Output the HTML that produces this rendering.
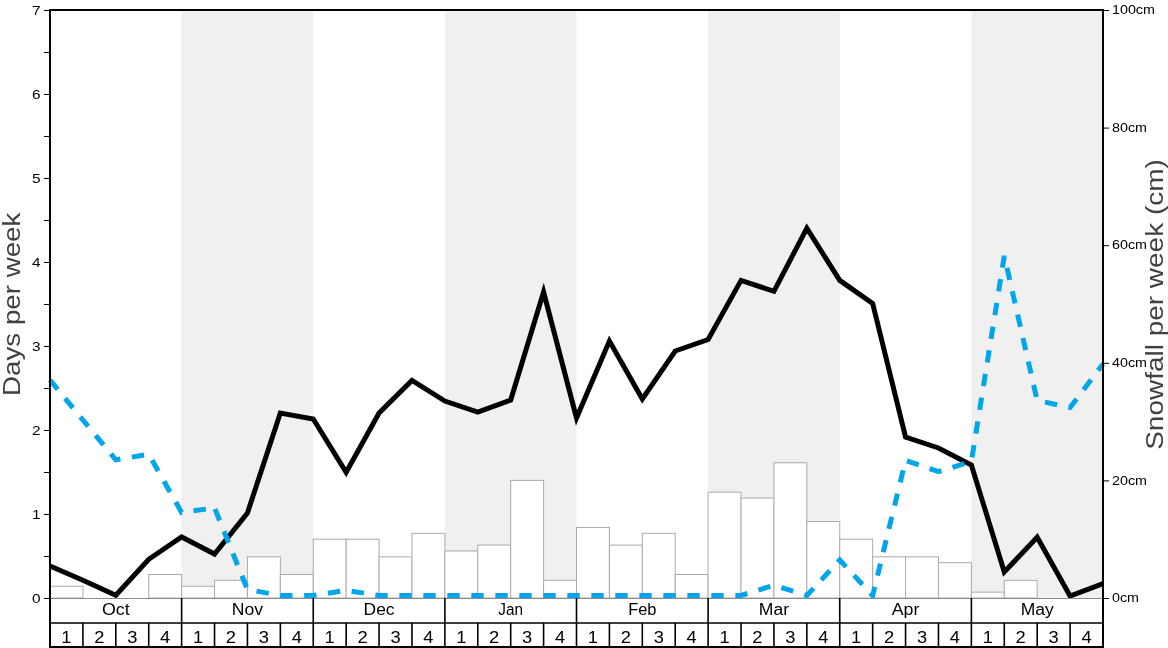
<!DOCTYPE html>
<html><head><meta charset="utf-8"><style>
html,body{margin:0;padding:0;background:#fff;width:1168px;height:648px;overflow:hidden}
svg{display:block;will-change:transform}
text{font-family:"Liberation Sans", sans-serif}
</style></head><body>
<svg width="1168" height="648" viewBox="0 0 1168 648">
<rect x="0" y="0" width="1168" height="648" fill="#fff"/>
<rect x="181.62" y="10" width="131.62" height="588" fill="#f0f0f0"/>
<rect x="444.88" y="10" width="131.62" height="588" fill="#f0f0f0"/>
<rect x="708.12" y="10" width="131.62" height="588" fill="#f0f0f0"/>
<rect x="971.38" y="10" width="131.62" height="588" fill="#f0f0f0"/>
<rect x="50.00" y="586.24" width="32.91" height="11.76" fill="#fff" stroke="#aaaaaa" stroke-width="1"/>
<rect x="148.72" y="574.48" width="32.91" height="23.52" fill="#fff" stroke="#aaaaaa" stroke-width="1"/>
<rect x="181.62" y="586.24" width="32.91" height="11.76" fill="#fff" stroke="#aaaaaa" stroke-width="1"/>
<rect x="214.53" y="580.36" width="32.91" height="17.64" fill="#fff" stroke="#aaaaaa" stroke-width="1"/>
<rect x="247.44" y="556.84" width="32.91" height="41.16" fill="#fff" stroke="#aaaaaa" stroke-width="1"/>
<rect x="280.34" y="574.48" width="32.91" height="23.52" fill="#fff" stroke="#aaaaaa" stroke-width="1"/>
<rect x="313.25" y="539.20" width="32.91" height="58.80" fill="#fff" stroke="#aaaaaa" stroke-width="1"/>
<rect x="346.16" y="539.20" width="32.91" height="58.80" fill="#fff" stroke="#aaaaaa" stroke-width="1"/>
<rect x="379.06" y="556.84" width="32.91" height="41.16" fill="#fff" stroke="#aaaaaa" stroke-width="1"/>
<rect x="411.97" y="533.32" width="32.91" height="64.68" fill="#fff" stroke="#aaaaaa" stroke-width="1"/>
<rect x="444.88" y="550.96" width="32.91" height="47.04" fill="#fff" stroke="#aaaaaa" stroke-width="1"/>
<rect x="477.78" y="545.08" width="32.91" height="52.92" fill="#fff" stroke="#aaaaaa" stroke-width="1"/>
<rect x="510.69" y="480.40" width="32.91" height="117.60" fill="#fff" stroke="#aaaaaa" stroke-width="1"/>
<rect x="543.59" y="580.36" width="32.91" height="17.64" fill="#fff" stroke="#aaaaaa" stroke-width="1"/>
<rect x="576.50" y="527.44" width="32.91" height="70.56" fill="#fff" stroke="#aaaaaa" stroke-width="1"/>
<rect x="609.41" y="545.08" width="32.91" height="52.92" fill="#fff" stroke="#aaaaaa" stroke-width="1"/>
<rect x="642.31" y="533.32" width="32.91" height="64.68" fill="#fff" stroke="#aaaaaa" stroke-width="1"/>
<rect x="675.22" y="574.48" width="32.91" height="23.52" fill="#fff" stroke="#aaaaaa" stroke-width="1"/>
<rect x="708.12" y="492.16" width="32.91" height="105.84" fill="#fff" stroke="#aaaaaa" stroke-width="1"/>
<rect x="741.03" y="498.04" width="32.91" height="99.96" fill="#fff" stroke="#aaaaaa" stroke-width="1"/>
<rect x="773.94" y="462.76" width="32.91" height="135.24" fill="#fff" stroke="#aaaaaa" stroke-width="1"/>
<rect x="806.84" y="521.56" width="32.91" height="76.44" fill="#fff" stroke="#aaaaaa" stroke-width="1"/>
<rect x="839.75" y="539.20" width="32.91" height="58.80" fill="#fff" stroke="#aaaaaa" stroke-width="1"/>
<rect x="872.66" y="556.84" width="32.91" height="41.16" fill="#fff" stroke="#aaaaaa" stroke-width="1"/>
<rect x="905.56" y="556.84" width="32.91" height="41.16" fill="#fff" stroke="#aaaaaa" stroke-width="1"/>
<rect x="938.47" y="562.72" width="32.91" height="35.28" fill="#fff" stroke="#aaaaaa" stroke-width="1"/>
<rect x="971.38" y="592.12" width="32.91" height="5.88" fill="#fff" stroke="#aaaaaa" stroke-width="1"/>
<rect x="1004.28" y="580.36" width="32.91" height="17.64" fill="#fff" stroke="#aaaaaa" stroke-width="1"/>
<defs><clipPath id="cp"><rect x="0" y="0" width="1168" height="598"/></clipPath></defs>
<g clip-path="url(#cp)">
<polyline points="50.00,566.00 82.91,580.30 115.81,595.30 148.72,559.30 181.62,537.00 214.53,554.00 247.44,513.00 280.34,413.00 313.25,419.00 346.16,472.30 379.06,413.00 411.97,380.50 444.88,401.00 477.78,412.00 510.69,400.00 543.59,292.00 576.50,418.00 609.41,341.00 642.31,399.00 675.22,351.00 708.12,339.50 741.03,280.40 773.94,291.30 806.84,228.20 839.75,280.40 872.66,303.50 905.56,437.00 938.47,448.00 971.38,465.00 1004.28,572.00 1037.19,537.20 1070.09,596.00 1103.00,583.70" fill="none" stroke="#000" stroke-width="5" stroke-linejoin="miter" stroke-miterlimit="10"/>
<polyline points="50.00,380.00 82.91,420.00 115.81,459.80 148.72,454.30 181.62,512.50 214.53,507.90" fill="none" stroke="#00a5ec" stroke-width="5" stroke-dasharray="12.4 11.6" stroke-dashoffset="0.3" stroke-linejoin="miter"/>
<polyline points="214.53,507.90 247.44,589.50 280.34,595.50 313.25,595.50 346.16,590.30 379.06,595.50 411.97,595.50 444.88,595.50 477.78,595.50 510.69,595.50 543.59,595.50 576.50,595.50 609.41,595.50 642.31,595.50 675.22,595.50 708.12,595.50 741.03,595.50 773.94,585.20 806.84,595.50 839.75,560.00 872.66,595.50 905.56,460.40 938.47,471.60 971.38,461.50 1004.28,256.00 1037.19,400.50 1070.09,407.50 1103.00,364.00" fill="none" stroke="#00a5ec" stroke-width="5" stroke-dasharray="12.4 11.6" stroke-dashoffset="22.79" stroke-linejoin="miter"/>
</g>
<line x1="50.0" y1="598.5" x2="1103.0" y2="598.5" stroke="#8c8c8c" stroke-width="1"/>
<rect x="50.0" y="10" width="1053.0" height="637" fill="none" stroke="#000" stroke-width="2"/>
<line x1="50.0" y1="623" x2="1103.0" y2="623" stroke="#000" stroke-width="1.6"/>
<line x1="181.62" y1="598" x2="181.62" y2="648" stroke="#000" stroke-width="1.6"/>
<line x1="313.25" y1="598" x2="313.25" y2="648" stroke="#000" stroke-width="1.6"/>
<line x1="444.88" y1="598" x2="444.88" y2="648" stroke="#000" stroke-width="1.6"/>
<line x1="576.50" y1="598" x2="576.50" y2="648" stroke="#000" stroke-width="1.6"/>
<line x1="708.12" y1="598" x2="708.12" y2="648" stroke="#000" stroke-width="1.6"/>
<line x1="839.75" y1="598" x2="839.75" y2="648" stroke="#000" stroke-width="1.6"/>
<line x1="971.38" y1="598" x2="971.38" y2="648" stroke="#000" stroke-width="1.6"/>
<line x1="82.91" y1="623" x2="82.91" y2="648" stroke="#000" stroke-width="1.6"/>
<line x1="115.81" y1="623" x2="115.81" y2="648" stroke="#000" stroke-width="1.6"/>
<line x1="148.72" y1="623" x2="148.72" y2="648" stroke="#000" stroke-width="1.6"/>
<line x1="214.53" y1="623" x2="214.53" y2="648" stroke="#000" stroke-width="1.6"/>
<line x1="247.44" y1="623" x2="247.44" y2="648" stroke="#000" stroke-width="1.6"/>
<line x1="280.34" y1="623" x2="280.34" y2="648" stroke="#000" stroke-width="1.6"/>
<line x1="346.16" y1="623" x2="346.16" y2="648" stroke="#000" stroke-width="1.6"/>
<line x1="379.06" y1="623" x2="379.06" y2="648" stroke="#000" stroke-width="1.6"/>
<line x1="411.97" y1="623" x2="411.97" y2="648" stroke="#000" stroke-width="1.6"/>
<line x1="477.78" y1="623" x2="477.78" y2="648" stroke="#000" stroke-width="1.6"/>
<line x1="510.69" y1="623" x2="510.69" y2="648" stroke="#000" stroke-width="1.6"/>
<line x1="543.59" y1="623" x2="543.59" y2="648" stroke="#000" stroke-width="1.6"/>
<line x1="609.41" y1="623" x2="609.41" y2="648" stroke="#000" stroke-width="1.6"/>
<line x1="642.31" y1="623" x2="642.31" y2="648" stroke="#000" stroke-width="1.6"/>
<line x1="675.22" y1="623" x2="675.22" y2="648" stroke="#000" stroke-width="1.6"/>
<line x1="741.03" y1="623" x2="741.03" y2="648" stroke="#000" stroke-width="1.6"/>
<line x1="773.94" y1="623" x2="773.94" y2="648" stroke="#000" stroke-width="1.6"/>
<line x1="806.84" y1="623" x2="806.84" y2="648" stroke="#000" stroke-width="1.6"/>
<line x1="872.66" y1="623" x2="872.66" y2="648" stroke="#000" stroke-width="1.6"/>
<line x1="905.56" y1="623" x2="905.56" y2="648" stroke="#000" stroke-width="1.6"/>
<line x1="938.47" y1="623" x2="938.47" y2="648" stroke="#000" stroke-width="1.6"/>
<line x1="1004.28" y1="623" x2="1004.28" y2="648" stroke="#000" stroke-width="1.6"/>
<line x1="1037.19" y1="623" x2="1037.19" y2="648" stroke="#000" stroke-width="1.6"/>
<line x1="1070.09" y1="623" x2="1070.09" y2="648" stroke="#000" stroke-width="1.6"/>
<line x1="44" y1="598.50" x2="49" y2="598.50" stroke="#000" stroke-width="1"/>
<line x1="44" y1="556.50" x2="49" y2="556.50" stroke="#000" stroke-width="1"/>
<line x1="44" y1="514.50" x2="49" y2="514.50" stroke="#000" stroke-width="1"/>
<line x1="44" y1="472.50" x2="49" y2="472.50" stroke="#000" stroke-width="1"/>
<line x1="44" y1="430.50" x2="49" y2="430.50" stroke="#000" stroke-width="1"/>
<line x1="44" y1="388.50" x2="49" y2="388.50" stroke="#000" stroke-width="1"/>
<line x1="44" y1="346.50" x2="49" y2="346.50" stroke="#000" stroke-width="1"/>
<line x1="44" y1="304.50" x2="49" y2="304.50" stroke="#000" stroke-width="1"/>
<line x1="44" y1="262.50" x2="49" y2="262.50" stroke="#000" stroke-width="1"/>
<line x1="44" y1="220.50" x2="49" y2="220.50" stroke="#000" stroke-width="1"/>
<line x1="44" y1="178.50" x2="49" y2="178.50" stroke="#000" stroke-width="1"/>
<line x1="44" y1="136.50" x2="49" y2="136.50" stroke="#000" stroke-width="1"/>
<line x1="44" y1="94.50" x2="49" y2="94.50" stroke="#000" stroke-width="1"/>
<line x1="44" y1="52.50" x2="49" y2="52.50" stroke="#000" stroke-width="1"/>
<line x1="44" y1="10.50" x2="49" y2="10.50" stroke="#000" stroke-width="1"/>
<text x="40.5" y="603.00" text-anchor="end" font-size="13.5" fill="#000" textLength="8.59" lengthAdjust="spacingAndGlyphs">0</text>
<text x="40.5" y="519.00" text-anchor="end" font-size="13.5" fill="#000" textLength="8.59" lengthAdjust="spacingAndGlyphs">1</text>
<text x="40.5" y="435.00" text-anchor="end" font-size="13.5" fill="#000" textLength="8.59" lengthAdjust="spacingAndGlyphs">2</text>
<text x="40.5" y="351.00" text-anchor="end" font-size="13.5" fill="#000" textLength="8.59" lengthAdjust="spacingAndGlyphs">3</text>
<text x="40.5" y="267.00" text-anchor="end" font-size="13.5" fill="#000" textLength="8.59" lengthAdjust="spacingAndGlyphs">4</text>
<text x="40.5" y="183.00" text-anchor="end" font-size="13.5" fill="#000" textLength="8.59" lengthAdjust="spacingAndGlyphs">5</text>
<text x="40.5" y="99.00" text-anchor="end" font-size="13.5" fill="#000" textLength="8.59" lengthAdjust="spacingAndGlyphs">6</text>
<text x="40.5" y="15.00" text-anchor="end" font-size="13.5" fill="#000" textLength="8.59" lengthAdjust="spacingAndGlyphs">7</text>
<line x1="1104" y1="598.50" x2="1109" y2="598.50" stroke="#000" stroke-width="1"/>
<text x="1112" y="602.10" font-size="12.5" fill="#000" textLength="27.00" lengthAdjust="spacingAndGlyphs">0cm</text>
<line x1="1104" y1="480.90" x2="1109" y2="480.90" stroke="#000" stroke-width="1"/>
<text x="1112" y="484.50" font-size="12.5" fill="#000" textLength="34.96" lengthAdjust="spacingAndGlyphs">20cm</text>
<line x1="1104" y1="363.30" x2="1109" y2="363.30" stroke="#000" stroke-width="1"/>
<text x="1112" y="366.90" font-size="12.5" fill="#000" textLength="34.96" lengthAdjust="spacingAndGlyphs">40cm</text>
<line x1="1104" y1="245.70" x2="1109" y2="245.70" stroke="#000" stroke-width="1"/>
<text x="1112" y="249.30" font-size="12.5" fill="#000" textLength="34.96" lengthAdjust="spacingAndGlyphs">60cm</text>
<line x1="1104" y1="128.10" x2="1109" y2="128.10" stroke="#000" stroke-width="1"/>
<text x="1112" y="131.70" font-size="12.5" fill="#000" textLength="34.96" lengthAdjust="spacingAndGlyphs">80cm</text>
<line x1="1104" y1="10.50" x2="1109" y2="10.50" stroke="#000" stroke-width="1"/>
<text x="1112" y="14.10" font-size="12.5" fill="#000" textLength="42.91" lengthAdjust="spacingAndGlyphs">100cm</text>
<text x="115.81" y="615" text-anchor="middle" font-size="16" fill="#000" textLength="27.66" lengthAdjust="spacingAndGlyphs">Oct</text>
<text x="247.44" y="615" text-anchor="middle" font-size="16" fill="#000" textLength="31.23" lengthAdjust="spacingAndGlyphs">Nov</text>
<text x="379.06" y="615" text-anchor="middle" font-size="16" fill="#000" textLength="30.96" lengthAdjust="spacingAndGlyphs">Dec</text>
<text x="510.69" y="615" text-anchor="middle" font-size="16" fill="#000" textLength="24.66" lengthAdjust="spacingAndGlyphs">Jan</text>
<text x="642.31" y="615" text-anchor="middle" font-size="16" fill="#000" textLength="28.33" lengthAdjust="spacingAndGlyphs">Feb</text>
<text x="773.94" y="615" text-anchor="middle" font-size="16" fill="#000" textLength="30.19" lengthAdjust="spacingAndGlyphs">Mar</text>
<text x="905.56" y="615" text-anchor="middle" font-size="16" fill="#000" textLength="27.68" lengthAdjust="spacingAndGlyphs">Apr</text>
<text x="1037.19" y="615" text-anchor="middle" font-size="16" fill="#000" textLength="33.08" lengthAdjust="spacingAndGlyphs">May</text>
<text x="66.45" y="643" text-anchor="middle" font-size="16" fill="#000" textLength="10.18" lengthAdjust="spacingAndGlyphs">1</text>
<text x="99.36" y="643" text-anchor="middle" font-size="16" fill="#000" textLength="10.18" lengthAdjust="spacingAndGlyphs">2</text>
<text x="132.27" y="643" text-anchor="middle" font-size="16" fill="#000" textLength="10.18" lengthAdjust="spacingAndGlyphs">3</text>
<text x="165.17" y="643" text-anchor="middle" font-size="16" fill="#000" textLength="10.18" lengthAdjust="spacingAndGlyphs">4</text>
<text x="198.08" y="643" text-anchor="middle" font-size="16" fill="#000" textLength="10.18" lengthAdjust="spacingAndGlyphs">1</text>
<text x="230.98" y="643" text-anchor="middle" font-size="16" fill="#000" textLength="10.18" lengthAdjust="spacingAndGlyphs">2</text>
<text x="263.89" y="643" text-anchor="middle" font-size="16" fill="#000" textLength="10.18" lengthAdjust="spacingAndGlyphs">3</text>
<text x="296.80" y="643" text-anchor="middle" font-size="16" fill="#000" textLength="10.18" lengthAdjust="spacingAndGlyphs">4</text>
<text x="329.70" y="643" text-anchor="middle" font-size="16" fill="#000" textLength="10.18" lengthAdjust="spacingAndGlyphs">1</text>
<text x="362.61" y="643" text-anchor="middle" font-size="16" fill="#000" textLength="10.18" lengthAdjust="spacingAndGlyphs">2</text>
<text x="395.52" y="643" text-anchor="middle" font-size="16" fill="#000" textLength="10.18" lengthAdjust="spacingAndGlyphs">3</text>
<text x="428.42" y="643" text-anchor="middle" font-size="16" fill="#000" textLength="10.18" lengthAdjust="spacingAndGlyphs">4</text>
<text x="461.33" y="643" text-anchor="middle" font-size="16" fill="#000" textLength="10.18" lengthAdjust="spacingAndGlyphs">1</text>
<text x="494.23" y="643" text-anchor="middle" font-size="16" fill="#000" textLength="10.18" lengthAdjust="spacingAndGlyphs">2</text>
<text x="527.14" y="643" text-anchor="middle" font-size="16" fill="#000" textLength="10.18" lengthAdjust="spacingAndGlyphs">3</text>
<text x="560.05" y="643" text-anchor="middle" font-size="16" fill="#000" textLength="10.18" lengthAdjust="spacingAndGlyphs">4</text>
<text x="592.95" y="643" text-anchor="middle" font-size="16" fill="#000" textLength="10.18" lengthAdjust="spacingAndGlyphs">1</text>
<text x="625.86" y="643" text-anchor="middle" font-size="16" fill="#000" textLength="10.18" lengthAdjust="spacingAndGlyphs">2</text>
<text x="658.77" y="643" text-anchor="middle" font-size="16" fill="#000" textLength="10.18" lengthAdjust="spacingAndGlyphs">3</text>
<text x="691.67" y="643" text-anchor="middle" font-size="16" fill="#000" textLength="10.18" lengthAdjust="spacingAndGlyphs">4</text>
<text x="724.58" y="643" text-anchor="middle" font-size="16" fill="#000" textLength="10.18" lengthAdjust="spacingAndGlyphs">1</text>
<text x="757.48" y="643" text-anchor="middle" font-size="16" fill="#000" textLength="10.18" lengthAdjust="spacingAndGlyphs">2</text>
<text x="790.39" y="643" text-anchor="middle" font-size="16" fill="#000" textLength="10.18" lengthAdjust="spacingAndGlyphs">3</text>
<text x="823.30" y="643" text-anchor="middle" font-size="16" fill="#000" textLength="10.18" lengthAdjust="spacingAndGlyphs">4</text>
<text x="856.20" y="643" text-anchor="middle" font-size="16" fill="#000" textLength="10.18" lengthAdjust="spacingAndGlyphs">1</text>
<text x="889.11" y="643" text-anchor="middle" font-size="16" fill="#000" textLength="10.18" lengthAdjust="spacingAndGlyphs">2</text>
<text x="922.02" y="643" text-anchor="middle" font-size="16" fill="#000" textLength="10.18" lengthAdjust="spacingAndGlyphs">3</text>
<text x="954.92" y="643" text-anchor="middle" font-size="16" fill="#000" textLength="10.18" lengthAdjust="spacingAndGlyphs">4</text>
<text x="987.83" y="643" text-anchor="middle" font-size="16" fill="#000" textLength="10.18" lengthAdjust="spacingAndGlyphs">1</text>
<text x="1020.73" y="643" text-anchor="middle" font-size="16" fill="#000" textLength="10.18" lengthAdjust="spacingAndGlyphs">2</text>
<text x="1053.64" y="643" text-anchor="middle" font-size="16" fill="#000" textLength="10.18" lengthAdjust="spacingAndGlyphs">3</text>
<text x="1086.55" y="643" text-anchor="middle" font-size="16" fill="#000" textLength="10.18" lengthAdjust="spacingAndGlyphs">4</text>
<text transform="translate(19.8,304.3) rotate(-90)" text-anchor="middle" font-size="24.7" fill="#404040" textLength="183.28" lengthAdjust="spacingAndGlyphs">Days per week</text>
<text transform="translate(1163,304.5) rotate(-90)" text-anchor="middle" font-size="24.7" fill="#404040" textLength="290.61" lengthAdjust="spacingAndGlyphs">Snowfall per week (cm)</text>
</svg>
</body></html>
